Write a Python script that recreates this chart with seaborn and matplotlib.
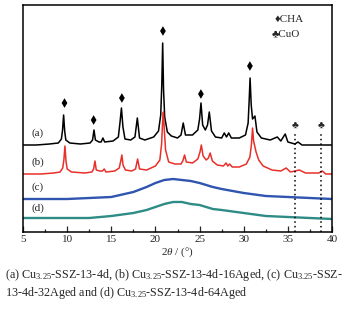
import numpy as np
import pandas as pd
import seaborn as sns
import matplotlib
matplotlib.use('Agg')
import matplotlib.pyplot as plt
from matplotlib.ticker import MultipleLocator

# XRD patterns (2theta in deg, intensity in a.u. above each baseline)
a_x = [5, 6.5, 8, 9.0, 9.35, 9.48, 9.6, 9.72, 9.85, 10.3, 11.5, 12.6, 12.88, 13.04, 13.2, 13.6,
       13.85, 14.05, 14.25, 15.2, 15.8, 15.98, 16.15, 16.32, 16.55, 17.2, 17.68, 17.95, 18.2, 18.8,
       19.8, 20.35, 20.6, 20.72, 20.82, 20.92, 21.05, 21.35, 21.8, 22.5, 22.9, 23.15, 23.4, 24.2,
       24.8, 25.0, 25.16, 25.35, 25.65, 25.9, 26.1, 26.35, 26.8, 27.5, 27.8, 28.05, 28.3, 28.6,
       29.5, 30.2, 30.5, 30.62, 30.72, 30.85, 31.0, 31.27, 31.5, 32.0, 33.0, 33.8, 34.2, 34.7,
       35.0, 35.8, 36.15, 36.6, 38, 40]
a_y = [0, 0, 1, 2, 6, 15, 30, 14, 5, 2, 1, 2, 5, 15, 5, 3,
       3, 7, 3, 4, 8, 22, 37, 18, 6, 5, 8, 27, 7, 5,
       8, 14, 30, 60, 102, 55, 28, 13, 9, 7, 10, 22, 10, 10,
       15, 26, 42, 20, 15, 20, 33, 14, 8, 7, 12, 8, 12, 7,
       7, 10, 22, 45, 67, 40, 26, 29, 13, 7, 5, 8, 4, 11,
       3, 1, 3, 0, 0, 0]

b_x = [5, 7, 8.5, 9.2, 9.5, 9.63, 9.75, 9.87, 10.0, 10.5, 12, 12.8, 13.0, 13.15, 13.3, 13.7,
       14.0, 14.2, 14.4, 15.4, 15.9, 16.07, 16.2, 16.33, 16.6, 17.3, 17.75, 17.98, 18.2, 19.0,
       20.0, 20.5, 20.7, 20.8, 20.9, 21.0, 21.15, 21.5, 22.2, 22.9, 23.1, 23.3, 23.5, 24.2,
       24.8, 25.05, 25.2, 25.4, 25.75, 26.0, 26.2, 26.45, 27.0, 27.7, 28.0, 28.2, 28.4, 28.7,
       29.5, 30.3, 30.7, 30.88, 31.0, 31.12, 31.4, 31.7, 32.2, 33.2, 34.2, 34.8, 35.3, 36.3,
       37.0, 38.5, 38.9, 39.3, 40]
b_y = [0, 0, 1, 2, 6, 14, 28, 13, 5, 2, 1, 2, 5, 13, 4, 3,
       3, 5, 2, 3, 6, 13, 19, 9, 4, 3, 5, 15, 5, 4,
       8, 14, 30, 50, 62, 45, 24, 12, 10, 10, 13, 19, 12, 11,
       15, 22, 29, 18, 14, 16, 21, 13, 9, 8, 11, 8, 10, 7,
       7, 10, 17, 30, 46, 33, 22, 14, 8, 4, 3, 6, 2, 4,
       1, 1, 3, 0, 0]

hump_x = [5, 7.5, 10, 12.5, 15, 17.5, 19, 20, 21, 22, 23, 24, 25, 26.5, 27.5, 30, 32.5, 35, 37.5, 40]
c_y = [0, 0, 0, 1, 2, 7, 12, 16, 19, 20, 19, 18, 16, 12, 10, 6, 3, 2, 1, 0]
d_y = [1, 1, 1, 1, 3, 6, 9, 12, 15, 17, 17, 15, 14, 10, 9, 6, 3, 2, 1, 0]

labels = ['(a)', '(b)', '(c)', '(d)']
offsets = [87, 58, 33, 13]
label_y = [99, 70, 45, 24]
colors = ['black', '#e8302a', '#2f55b0', '#2e8b86']

# phase markers
cha_x = [9.7, 13.0, 16.2, 20.85, 25.15, 30.7]
cha_y = [129, 112, 134, 201, 138, 166]
cuo_x = [35.8, 38.8]
cuo_y = [106, 106]

sns.set_style('ticks')
plt.rcParams['font.family'] = ['Liberation Serif', 'DejaVu Sans']
plt.rcParams['mathtext.fontset'] = 'custom'
plt.rcParams['mathtext.rm'] = 'Liberation Serif'
plt.rcParams['mathtext.it'] = 'Liberation Serif:italic'

fig = plt.figure(figsize=(3.6, 3.15), dpi=100)
ax = fig.add_axes([23/360, 1-232/315, 309/360, 227/315])

series = [(a_x, a_y), (b_x, b_y), (hump_x, c_y), (hump_x, d_y)]
widths = [1.1, 1.1, 1.7, 1.7]
for (xs, ys), off, col, lw in zip(series, offsets, colors, widths):
    df = pd.DataFrame({'two_theta': xs, 'intensity': np.array(ys) + off})
    sns.lineplot(data=df, x='two_theta', y='intensity', color=col, linewidth=lw, ax=ax)

for lab, ly in zip(labels, label_y):
    ax.text(5.95, ly, lab, fontsize=8, ha='left', va='center')

sns.scatterplot(x=cha_x, y=cha_y, marker='d', s=24, color='black', edgecolor='none', ax=ax)
for cx, cy in zip(cuo_x, cuo_y):
    ax.text(cx, cy, '\u2663', fontsize=7.5, ha='center', va='center')
    ax.vlines(cx, 0, 98, colors='black', linestyles=(0, (1, 2)), linewidth=1.1)

ax.text(0.815, 0.938, '\u2666CHA', transform=ax.transAxes, fontsize=8, va='center')
ax.text(0.805, 0.872, '\u2663CuO', transform=ax.transAxes, fontsize=8, va='center')

ax.set_xlim(5, 40)
ax.set_ylim(0, 227)
ax.set_yticks([])
ax.xaxis.set_major_locator(MultipleLocator(5))
ax.xaxis.set_minor_locator(MultipleLocator(2.5))
ax.tick_params(axis='x', which='major', direction='in', length=4, width=0.9, labelsize=8, pad=2)
ax.tick_params(axis='x', which='minor', direction='in', length=2.5, width=0.9)
ax.set_xlabel('2$\\theta$ / (°)', fontsize=8, labelpad=1)
ax.set_ylabel('')
for sp in ax.spines.values():
    sp.set_linewidth(1.1)
    sp.set_color('black')

fig.text(5/360, 1-275/315, '(a) Cu$_{3.25}$-SSZ-13-4d, (b) Cu$_{3.25}$-SSZ-13-4d-16Aged, (c) Cu$_{3.25}$-SSZ-',
         fontsize=8.7, va='center', ha='left')
fig.text(5/360, 1-293/315, '13-4d-32Aged and (d) Cu$_{3.25}$-SSZ-13-4d-64Aged',
         fontsize=8.7, va='center', ha='left')

fig.savefig('out.png', dpi=100)
